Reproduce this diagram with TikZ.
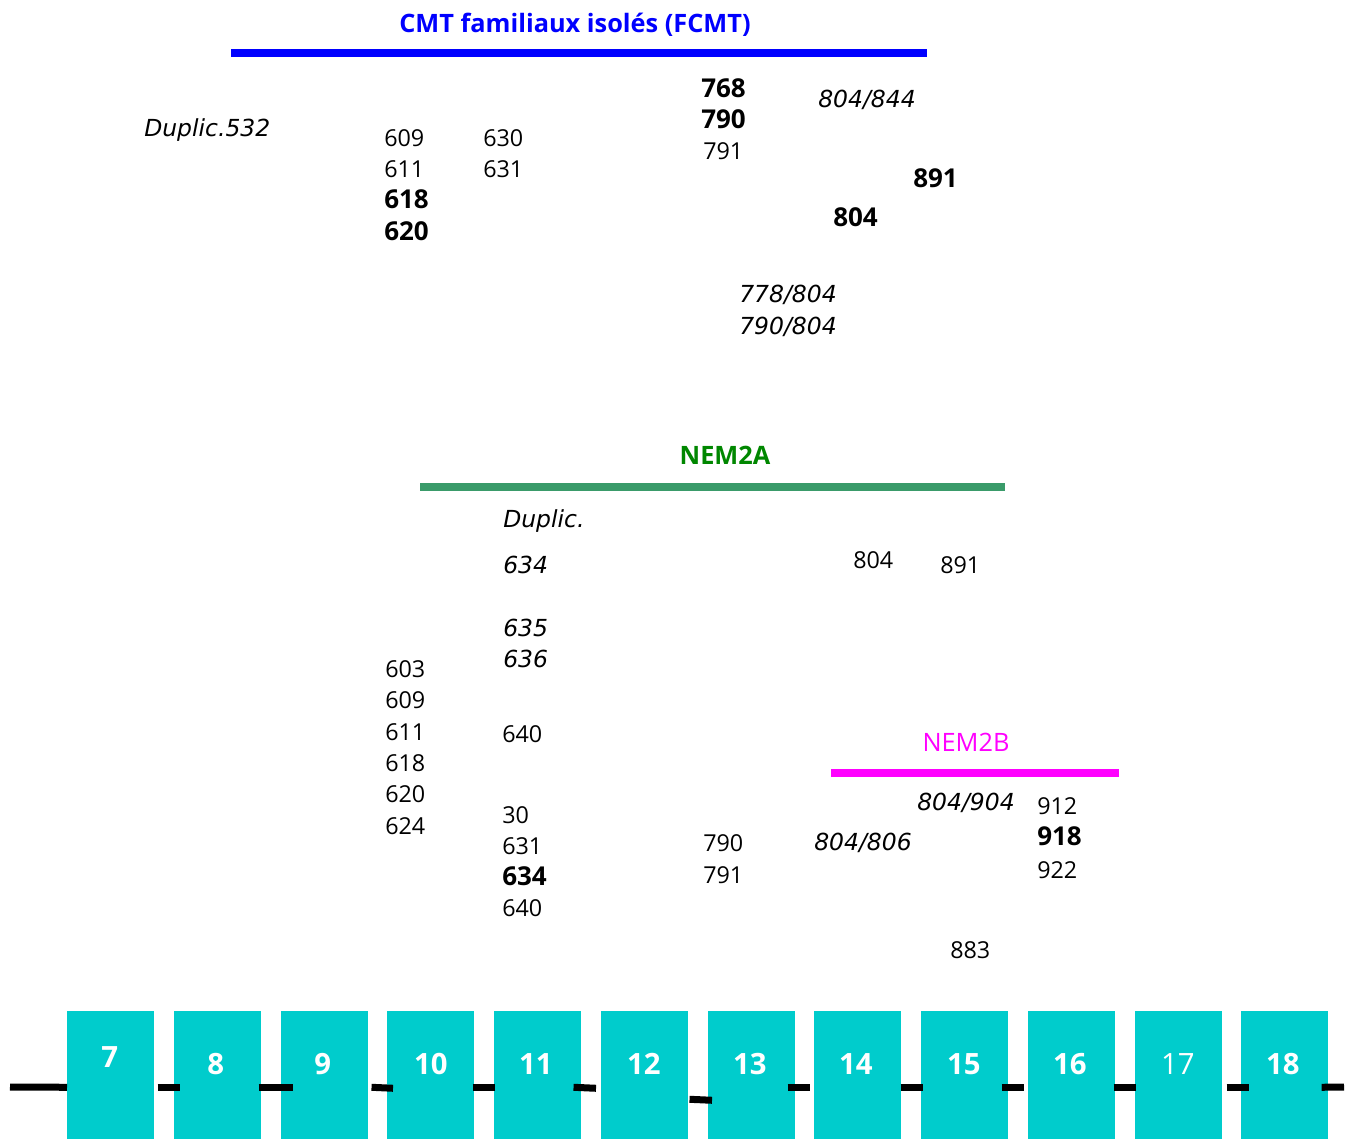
\documentclass[tikz,border=0pt]{standalone}
\usepackage{fontspec}
\setmainfont{Open Sans}
\newfontfamily\oblfont{DejaVu Sans}
\usetikzlibrary{calc}
\definecolor{exon}{RGB}{0,204,204}
\definecolor{fcmtcol}{RGB}{0,0,255}
\definecolor{nemaline}{RGB}{58,155,106}
\definecolor{nematext}{RGB}{0,135,0}
\definecolor{nembcol}{RGB}{255,0,255}
\tikzset{
  txt/.style={anchor=base west, inner sep=0pt, font=\fontsize{17.5}{17.5}\selectfont},
  txtb/.style={anchor=base west, inner sep=0pt, font=\fontsize{19.5}{19.5}\selectfont\bfseries},
  txti/.style={anchor=base west, inner sep=0pt, font=\oblfont\fontsize{17.6}{17.6}\selectfont\itshape},
  head/.style={anchor=base, inner sep=0pt, font=\fontsize{19}{19}\selectfont\bfseries},
  bar/.style={line width=6pt},
  exonbox/.style={fill=exon, draw=none, anchor=north west, inner sep=0pt,
                  minimum width=65.25pt, minimum height=96pt},
  exnum/.style={inner sep=0pt, text=white, font=\fontsize{22}{22}\selectfont\bfseries},
  exnumr/.style={inner sep=0pt, text=white, font=\fontsize{22}{22}\selectfont},
  link/.style={line width=5.25pt, black}
}
\begin{document}
\begin{tikzpicture}[x=0.75pt, y=-0.75pt]
\useasboundingbox (0,0) rectangle (1351,1139);
% ---- FCMT ----
\node[head, text=fcmtcol] (tfcmt) at (575,32) {CMT familiaux isolés (FCMT)};
\draw[bar, fcmtcol] (231,53) -- (927,53);
\node[txti] (a1) at (144,136) {Duplic.532};
\node[txt]  (a2) at (384,146) {609};
\node[txt]  (a3) at (384,177) {611};
\node[txtb] (a4) at (384,208) {618};
\node[txtb] (a5) at (384,240) {620};
\node[txt]  (a6) at (483,146) {630};
\node[txt]  (a7) at (483,177) {631};
\node[txtb] (a8) at (701,97) {768};
\node[txtb] (a9) at (701,128) {790};
\node[txt]  (a10) at (703,159) {791};
\node[txti] (a11) at (818,107) {804/844};
\node[txtb] (a12) at (913,187) {891};
\node[txtb] (a13) at (833,226) {804};
\node[txti] (a14) at (739,302) {778/804};
\node[txti] (a15) at (739,334) {790/804};
% ---- NEM2A ----
\node[head, text=nematext] (tnema) at (725,464) {NEM2A};
\draw[bar, nemaline] (420,486.5) -- (1005,486.5);
\node[txti] (c1) at (503,527) {Duplic.};
\node[txti] (c2) at (503,573) {634};
\node[txt]  (c3) at (853,568) {804};
\node[txt]  (c4) at (940,573) {891};
\node[txti] (c5) at (503,636) {635};
\node[txti] (c6) at (503,667) {636};
\node[txt]  (c7) at (385,677) {603};
\node[txt]  (c8) at (385,708) {609};
\node[txt]  (c9) at (385,740) {611};
\node[txt]  (c10) at (385,771) {618};
\node[txt]  (c11) at (385,802) {620};
\node[txt]  (c12) at (385,834) {624};
\node[txt]  (c13) at (502,742) {640};
\node[txt]  (c14) at (502,823) {30};
\node[txt]  (c15) at (502,854) {631};
\node[txtb] (c16) at (502,885) {634};
\node[txt]  (c17) at (502,916) {640};
\node[txt]  (c18) at (703,851) {790};
\node[txt]  (c19) at (703,883) {791};
% ---- NEM2B ----
\node[head, text=nembcol, font=\fontsize{19}{19}\selectfont] (tnemb) at (966,751) {NEM2B};
\draw[bar, nembcol] (831,773) -- (1119,773);
\node[txti] (d1) at (917,810) {804/904};
\node[txt]  (d2) at (1037,814) {912};
\node[txtb] (d3) at (1037,845) {918};
\node[txt]  (d4) at (1037,878) {922};
\node[txti] (d5) at (814,850) {804/806};
\node[txt]  (d6) at (950,958) {883};
% ---- exons ----
\node[exonbox] (b7)  at (67,1011) {};
\node[exonbox] (b8)  at (174,1011) {};
\node[exonbox] (b9)  at (281,1011) {};
\node[exonbox] (b10) at (387,1011) {};
\node[exonbox] (b11) at (494,1011) {};
\node[exonbox] (b12) at (601,1011) {};
\node[exonbox] (b13) at (708,1011) {};
\node[exonbox] (b14) at (814,1011) {};
\node[exonbox] (b15) at (921,1011) {};
\node[exonbox] (b16) at (1028,1011) {};
\node[exonbox] (b17) at (1135,1011) {};
\node[exonbox] (b18) at (1241,1011) {};
\node[exnum] (n7)  at ($(b7.center)+(-1,-18)$) {7};
\node[exnum] (n8)  at ($(b8.center)+(-2,-11)$) {8};
\node[exnum] (n9)  at ($(b9.center)+(-2,-11)$) {9};
\node[exnum] (n10) at ($(b10.center)+(0,-11)$) {10};
\node[exnum] (n11) at ($(b11.center)+(-2,-11)$) {11};
\node[exnum] (n12) at ($(b12.center)+(-1,-11)$) {12};
\node[exnum] (n13) at ($(b13.center)+(-2,-11)$) {13};
\node[exnum] (n14) at ($(b14.center)+(-2,-11)$) {14};
\node[exnum] (n15) at ($(b15.center)+(-1,-11)$) {15};
\node[exnum] (n16) at ($(b16.center)+(-2,-11)$) {16};
\node[exnumr] (n17) at ($(b17.center)+(-1,-11)$) {17};
\node[exnum] (n18) at ($(b18.center)+(-2,-11)$) {18};
% ---- links ----
\coordinate (lstart) at (10,1087);
\coordinate (lend) at (1344,1087);
\draw[link] (lstart) -- ($(b7.west)+(0,12)$);
\draw[link] ($(b7.east)+(3,12)$) -- ($(b8.west)+(6,12)$);
\draw[link] ($(b8.east)+(-3,12)$) -- ($(b9.west)+(12,12)$);
\draw[link] ($(b9.east)+(3,12)$) -- ($(b10.west)+(6,13)$);
\draw[link] ($(b10.east)+(-2,12)$) -- ($(b11.west)+(1,12)$);
\draw[link] ($(b11.east)+(-8,12)$) -- ($(b12.west)+(-5,13)$);
\draw[link] ($(b12.east)+(1,24)$) -- ($(b13.west)+(4,25)$);
\draw[link] ($(b13.east)+(-8,12)$) -- ($(b14.west)+(-4,12)$);
\draw[link] ($(b14.east)+(-1,12)$) -- ($(b15.west)+(2,12)$);
\draw[link] ($(b15.east)+(-7,12)$) -- ($(b16.west)+(-4,12)$);
\draw[link] ($(b16.east)+(-2,12)$) -- ($(b17.west)+(1,12)$);
\draw[link] ($(b17.east)+(4,12)$) -- ($(b18.west)+(8,12)$);
\draw[link] ($(b18.east)+(-7,12)$) -- (lend);
\end{tikzpicture}
\end{document}
